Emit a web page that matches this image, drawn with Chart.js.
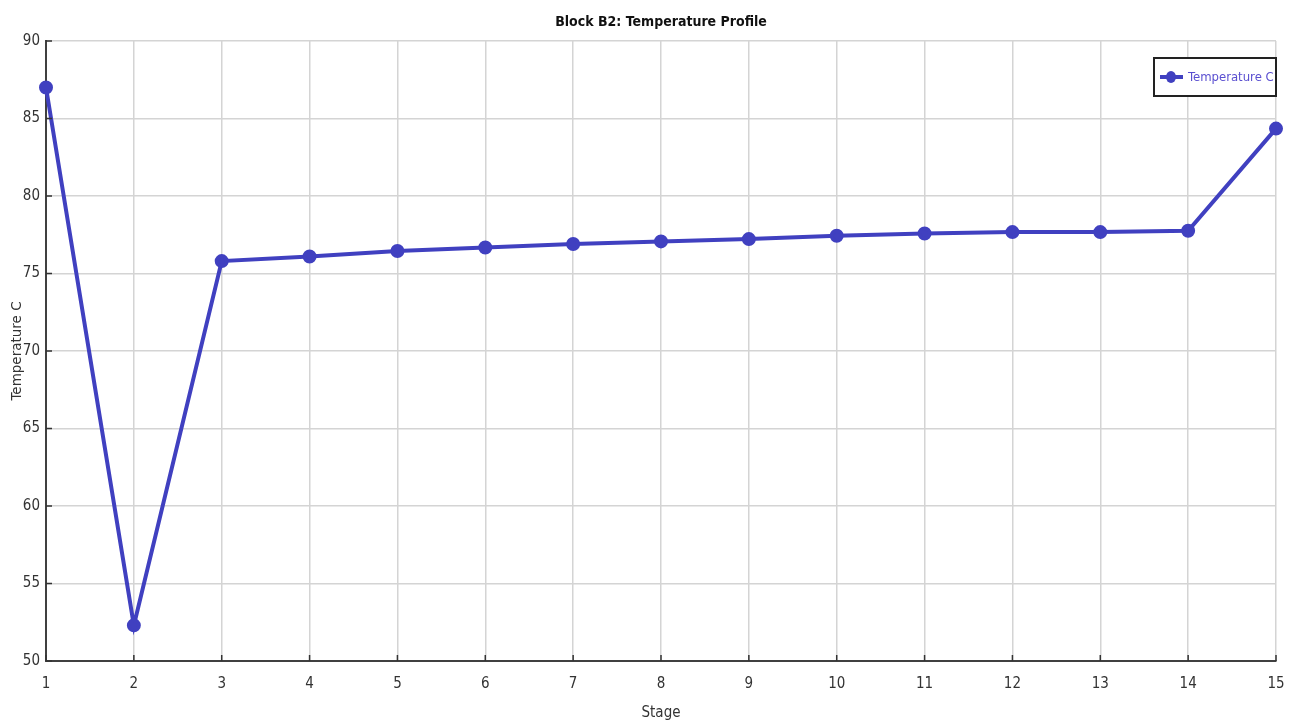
<!DOCTYPE html>
<html>
<head>
<meta charset="utf-8">
<script src="https://cdn.jsdelivr.net/npm/chart.js@4/dist/chart.umd.min.js"></script>
<style>
  html, body { margin: 0; padding: 0; background: #fff; }
  #wrap { width: 1299px; height: 722px; }
</style>
</head>
<body>
<div id="wrap"><canvas id="profileChart"></canvas></div>
<script>
const stages = ['1', '2', '3', '4', '5', '6', '7', '8', '9', '10', '11', '12', '13', '14', '15'];
const temperatureC = [87.0, 52.3, 75.8, 76.1, 76.45, 76.68, 76.9, 77.07, 77.22, 77.44, 77.58, 77.67, 77.67, 77.76, 84.35];
const yTicks = [50, 55, 60, 65, 70, 75, 80, 85, 90];
const chartTitle = 'Block B2: Temperature Profile';

const uiFont = "'DejaVu Sans Condensed', 'DejaVu Sans', sans-serif";
const lineColor = '#4040c0';

// short dark tick marks on the inside of both axes
const innerTicks = {
  id: 'innerTicks',
  afterDatasetsDraw(chart) {
    const { ctx, chartArea, scales } = chart;
    ctx.save();
    ctx.strokeStyle = '#333';
    ctx.lineWidth = 1.5;
    ctx.beginPath();
    stages.forEach((s, i) => {
      const x = scales.x.getPixelForValue(i);
      ctx.moveTo(x, chartArea.bottom);
      ctx.lineTo(x, chartArea.bottom - 6);
    });
    yTicks.forEach(v => {
      const y = scales.y.getPixelForValue(v);
      ctx.moveTo(chartArea.left, y);
      ctx.lineTo(chartArea.left + 6, y);
    });
    ctx.stroke();
    ctx.restore();
  }
};

// title centred over the plot area
const plotTitle = {
  id: 'plotTitle',
  afterDraw(chart) {
    const { ctx, chartArea } = chart;
    ctx.save();
    ctx.fillStyle = '#111';
    ctx.font = 'bold 14px ' + uiFont;
    ctx.textAlign = 'center';
    ctx.textBaseline = 'middle';
    ctx.fillText(chartTitle, (chartArea.left + chartArea.right) / 2, 22);
    ctx.restore();
  }
};

// boxed legend in the top-right corner of the plot
const boxLegend = {
  id: 'boxLegend',
  afterDraw(chart) {
    const { ctx, chartArea } = chart;
    const ds = chart.data.datasets[0];
    const w = 122, h = 38;
    const x = chartArea.right - w, y = chartArea.top + 17;
    ctx.save();
    ctx.fillStyle = '#fff';
    ctx.fillRect(x, y, w, h);
    ctx.strokeStyle = '#222';
    ctx.lineWidth = 2;
    ctx.strokeRect(x, y, w, h);
    const my = y + h / 2;
    ctx.strokeStyle = lineColor;
    ctx.lineWidth = 4;
    ctx.beginPath();
    ctx.moveTo(x + 6, my);
    ctx.lineTo(x + 29, my);
    ctx.stroke();
    ctx.fillStyle = lineColor;
    ctx.beginPath();
    ctx.ellipse(x + 17, my, 5, 6, 0, 0, Math.PI * 2);
    ctx.fill();
    ctx.fillStyle = '#5a4fd0';
    ctx.font = '13px ' + uiFont;
    ctx.textBaseline = 'middle';
    ctx.fillText(ds.label, x + 34, my + 1);
    ctx.restore();
  }
};

new Chart(document.getElementById('profileChart'), {
  type: 'line',
  data: {
    labels: stages,
    datasets: [{
      label: 'Temperature C',
      data: temperatureC,
      borderColor: lineColor,
      backgroundColor: lineColor,
      borderWidth: 4,
      pointRadius: 5,
      pointHoverRadius: 5,
      tension: 0,
      fill: false
    }]
  },
  plugins: [innerTicks, plotTitle, boxLegend],
  options: {
    responsive: true,
    maintainAspectRatio: false,
    animation: false,
    layout: { padding: { right: 23, top: 41 } },
    plugins: {
      legend: { display: false },
      tooltip: { enabled: false },
      title: { display: false }
    },
    scales: {
      x: {
        offset: false,
        afterFit(scale) { scale.height = 61; },
        grid: { color: '#d4d4d4', lineWidth: 1.5, drawTicks: false },
        border: { color: '#404040', width: 2 },
        ticks: {
          color: '#333',
          padding: 14,
          maxRotation: 0,
          autoSkip: false,
          font: { family: uiFont, size: 15 }
        },
        title: {
          display: true,
          text: 'Stage',
          color: '#333',
          font: { family: uiFont, size: 15 },
          padding: { top: 2, bottom: 0 }
        }
      },
      y: {
        min: 50,
        max: 90,
        afterFit(scale) { scale.width = 46; },
        afterBuildTicks(scale) { scale.ticks = yTicks.map(v => ({ value: v })); },
        grid: { color: '#d4d4d4', lineWidth: 1.5, drawTicks: false },
        border: { color: '#404040', width: 2 },
        ticks: {
          color: '#333',
          padding: 6,
          font: { family: uiFont, size: 15 }
        },
        title: {
          display: true,
          text: 'Temperature C',
          color: '#333',
          font: { family: "'DejaVu Sans', sans-serif", size: 13.5 },
          padding: { top: 9, bottom: 0 }
        }
      }
    }
  }
});
</script>
</body>
</html>
